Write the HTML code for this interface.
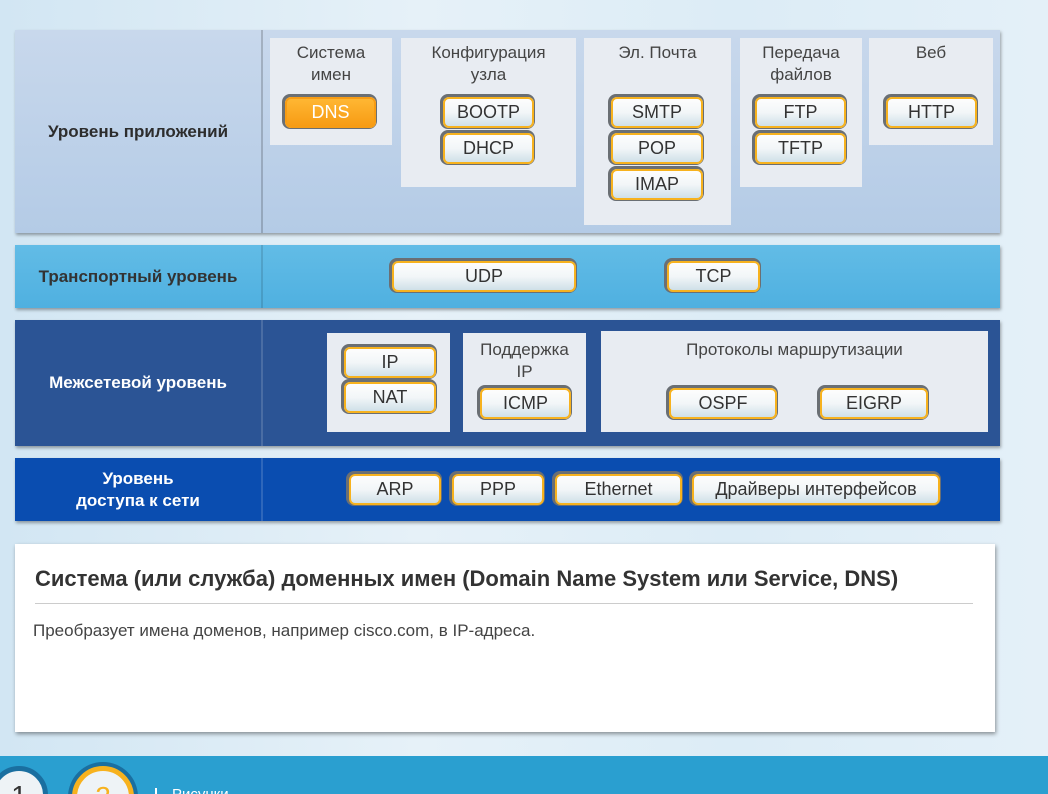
<!DOCTYPE html>
<html style="width:1048px;height:794px;overflow:hidden"><head><meta charset="utf-8">
<style>
*{margin:0;padding:0;box-sizing:border-box}
body{width:1048px;height:794px;position:relative;overflow:hidden;font-family:"Liberation Sans","DejaVu Sans",sans-serif;background:linear-gradient(90deg,#d2e6f3 0%,#e6f1f8 40%,#dcecf6 70%,#e4f0f8 100%)}
.a{position:absolute}
.layer{position:absolute;left:15px;width:985px;box-shadow:1px 2px 3px rgba(0,0,0,.35)}
.lbl{position:absolute;left:0;top:0;bottom:0;width:246px;display:flex;align-items:center;justify-content:center;text-align:center;font-weight:bold;font-size:17px;line-height:22px}
.div{position:absolute;left:246px;top:0;bottom:0;width:2px;background:rgba(0,0,0,.18)}
.box{position:absolute;background:#e8ecf2;text-align:center;color:#444;font-size:17px;line-height:22px;padding-top:4px}
.btn{position:absolute;height:31px;border-radius:6px;border:2px solid #f7b21e;background:linear-gradient(#fdfdfd,#f2f6f8 50%,#cfe0e8);box-shadow:-1px -1px 0 2px #6a6f74;color:#333;font-size:18px;line-height:26px;text-align:center}
.btn.o{background:linear-gradient(#ffb733,#f79c14);color:#fff;border-color:#f79c14}
</style></head><body>

<div class="layer" style="top:30px;height:203px;background:linear-gradient(#c8d8ec,#b4cbe6)">
  <div class="lbl" style="color:#2d2d2d">Уровень приложений</div>
  <div class="div"></div>
</div>
<div class="box" style="left:270px;top:38px;width:122px;height:107px">Система<br>имен</div>
<div class="box" style="left:401px;top:38px;width:175px;height:149px">Конфигурация<br>узла</div>
<div class="box" style="left:584px;top:38px;width:147px;height:187px">Эл. Почта</div>
<div class="box" style="left:740px;top:38px;width:122px;height:149px">Передача<br>файлов</div>
<div class="box" style="left:869px;top:38px;width:124px;height:107px">Веб</div>
<div class="btn o" style="left:285px;top:97px;width:91px">DNS</div>
<div class="btn" style="left:443px;top:97px;width:91px">BOOTP</div>
<div class="btn" style="left:443px;top:133px;width:91px">DHCP</div>
<div class="btn" style="left:611px;top:97px;width:92px">SMTP</div>
<div class="btn" style="left:611px;top:133px;width:92px">POP</div>
<div class="btn" style="left:611px;top:169px;width:92px">IMAP</div>
<div class="btn" style="left:755px;top:97px;width:91px">FTP</div>
<div class="btn" style="left:755px;top:133px;width:91px">TFTP</div>
<div class="btn" style="left:886px;top:97px;width:91px">HTTP</div>

<div class="layer" style="top:245px;height:63px;background:linear-gradient(#62bce6,#4fb0e0)">
  <div class="lbl" style="color:#333">Транспортный уровень</div>
  <div class="div" style="background:rgba(0,0,0,.12)"></div>
</div>
<div class="btn" style="left:392px;top:261px;width:184px">UDP</div>
<div class="btn" style="left:667px;top:261px;width:93px">TCP</div>

<div class="layer" style="top:320px;height:126px;background:#2b5495">
  <div class="lbl" style="color:#fff">Межсетевой уровень</div>
  <div class="div" style="background:rgba(255,255,255,.15)"></div>
</div>
<div class="box" style="left:327px;top:333px;width:123px;height:99px"></div>
<div class="box" style="left:463px;top:333px;width:123px;height:99px;padding-top:6px">Поддержка<br>IP</div>
<div class="box" style="left:601px;top:331px;width:387px;height:101px;padding-top:8px">Протоколы маршрутизации</div>
<div class="btn" style="left:344px;top:347px;width:92px">IP</div>
<div class="btn" style="left:344px;top:382px;width:92px">NAT</div>
<div class="btn" style="left:480px;top:388px;width:91px">ICMP</div>
<div class="btn" style="left:669px;top:388px;width:108px">OSPF</div>
<div class="btn" style="left:820px;top:388px;width:108px">EIGRP</div>

<div class="layer" style="top:458px;height:63px;background:#0a4db0">
  <div class="lbl" style="color:#fff">Уровень<br>доступа к сети</div>
  <div class="div" style="background:rgba(255,255,255,.15)"></div>
</div>
<div class="btn" style="left:349px;top:474px;width:92px">ARP</div>
<div class="btn" style="left:452px;top:474px;width:92px">PPP</div>
<div class="btn" style="left:555px;top:474px;width:127px">Ethernet</div>
<div class="btn" style="left:692px;top:474px;width:248px">Драйверы интерфейсов</div>

<div class="a" style="left:15px;top:544px;width:980px;height:188px;background:#fff;box-shadow:1px 2px 4px rgba(0,0,0,.4)">
  <div class="a" style="left:20px;top:22px;font-size:22px;font-weight:bold;color:#333;white-space:nowrap">Система (или служба) доменных имен (Domain Name System или Service, DNS)</div>
  <div class="a" style="left:20px;top:59px;width:938px;height:1px;background:#ccc"></div>
  <div class="a" style="left:18px;top:77px;font-size:17px;color:#444;white-space:nowrap">Преобразует имена доменов, например cisco.com, в IP-адреса.</div>
</div>

<div class="a" style="left:0;top:756px;width:1048px;height:38px;background:#2a9fd0;overflow:hidden">
  <div class="a" style="left:-10px;top:10px;width:58px;height:58px;border-radius:50%;background:#eef3f6;border:5px solid #1a6fa0;text-align:center;font-size:28px;color:#333;line-height:50px">1</div>
  <div class="a" style="left:72px;top:10px;width:62px;height:62px;border-radius:50%;background:#eef3f6;border:5px solid #f7b21e;box-shadow:0 0 0 4px #1a6fa0;text-align:center;font-size:28px;color:#f7b21e;line-height:52px">2</div>
  <div class="a" style="left:155px;top:32px;width:2px;height:8px;background:#fff"></div>
  <div class="a" style="left:172px;top:30px;font-size:15px;color:#fff">Рисунки</div>
</div>
</body></html>
